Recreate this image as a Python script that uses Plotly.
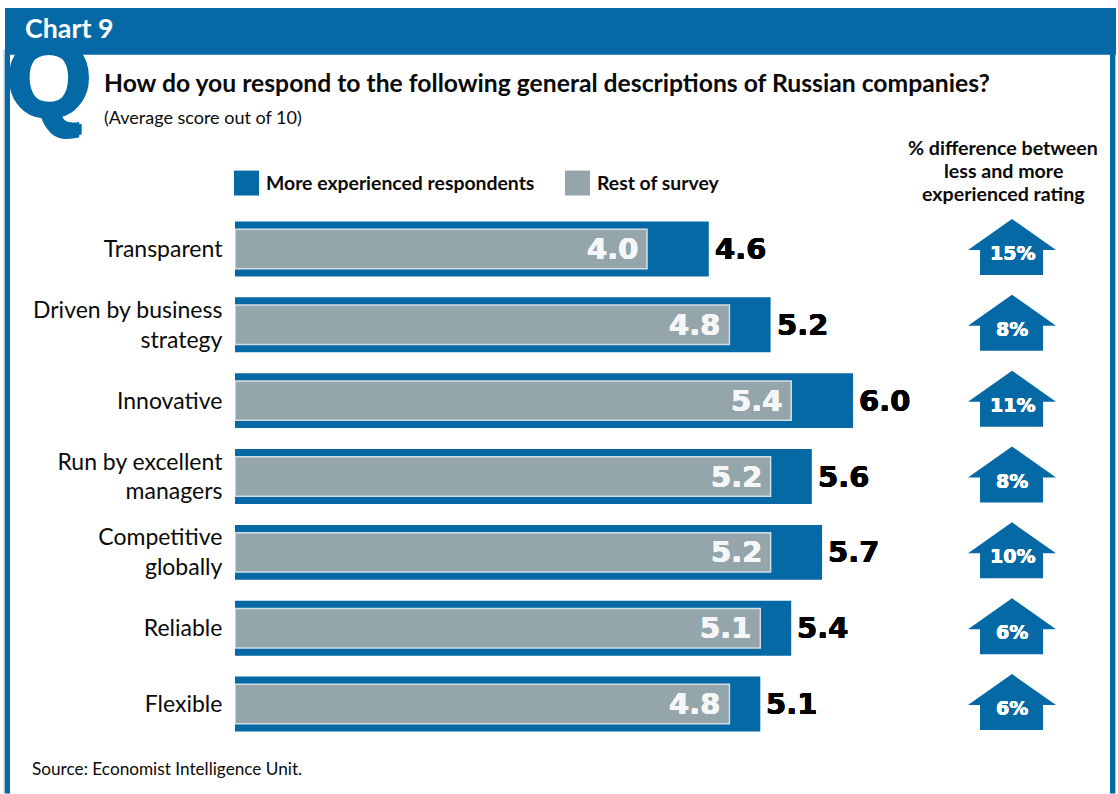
import plotly.graph_objects as go

categories = ["Transparent", "Driven by business<br>strategy", "Innovative",
              "Run by excellent<br>managers", "Competitive<br>globally", "Reliable", "Flexible"]
more_experienced = [4.6, 5.2, 6.0, 5.6, 5.7, 5.4, 5.1]
rest_of_survey = [4.0, 4.8, 5.4, 5.2, 5.2, 5.1, 4.8]
pct_difference = ["15%", "8%", "11%", "8%", "10%", "6%", "6%"]
series_names = ["More experienced respondents", "Rest of survey"]
column_heading = ["% difference between", "less and more", "experienced rating"]

BLUE = "#0569a6"
GREY = "#94a5ac"
EDGE = "#a9c6da"
INK = "#0a0a0a"
NARROW = "Lato, sans-serif"
HEAVY = "DejaVu Sans, sans-serif"
W, H = 1118, 794
MARGIN_L, MARGIN_T, MARGIN_B = 235, 210.5, 51.5
PLOT_W, PLOT_H = W - MARGIN_L, H - MARGIN_T - MARGIN_B


# page pixels expressed in the plot area's paper coordinates
def px(x):
    return (x - MARGIN_L) / PLOT_W


def py(y):
    return 1 - (y - MARGIN_T) / PLOT_H


def page_rect(x0, y0, x1, y1, color):
    return dict(type="rect", xref="paper", yref="paper", x0=px(x0), x1=px(x1), y0=py(y1), y1=py(y0),
                fillcolor=color, line_width=0, layer="below")


def thicken(color, d):
    # text-shadow offsets that fatten the glyph strokes
    return ", ".join(f"{a}px {b}px 0 {color}" for a, b in [(d, 0), (-d, 0), (0, d), (0, -d)])


fig = go.Figure()
fig.add_bar(y=categories, x=more_experienced, orientation="h", width=0.724, name=series_names[0],
            marker=dict(color=BLUE, line_width=0), showlegend=False)
fig.add_bar(y=categories, x=rest_of_survey, orientation="h", width=0.52, name=series_names[1],
            marker=dict(color=GREY, line=dict(color="#d5dee3", width=1.5)), showlegend=False)

shapes = [
    # page frame and heading band
    page_rect(3.5, 49, 5, 794, EDGE),
    page_rect(5, 49, 10, 794, BLUE),
    page_rect(1110, 49, 1115, 794, BLUE),
    page_rect(1115, 49, 1116, 794, EDGE),
    page_rect(5, 7, 1116, 54, BLUE),
    # legend swatches
    page_rect(234, 170, 259, 195, BLUE),
    page_rect(565, 170, 590, 195, GREY),
]


def note(text, x, y, size, color=INK, family=NARROW, anchor="left", bold=False, shadow=None):
    label = f"<b>{text}</b>" if bold else text
    font = dict(size=size, color=color, family=family)
    if shadow:
        font["shadow"] = shadow
    return dict(text=label, xref="paper", yref="paper", x=px(x), y=py(y), xanchor=anchor, yanchor="middle",
                showarrow=False, font=font)


annotations = [
    # the large Q merges into the band, so the band's white label goes on top of it
    note("Q", 5, 77, 108, BLUE, "Liberation Sans, sans-serif", bold=True, shadow=thicken(BLUE, 2.5)),
    note("Chart 9", 23, 27, 26.8, "white", bold=True),
    note("How do you respond to the following general descriptions of Russian companies?", 102, 82, 24.7, bold=True),
    note("(Average score out of 10)", 102, 116, 18),
    note(series_names[0], 264, 182, 19.4, bold=True),
    note(series_names[1], 595, 182, 19.4, bold=True),
    note("Source: Economist Intelligence Unit.", 30, 769, 17.2),
]
for line, y in zip(column_heading, [147, 170, 193]):
    annotations.append(note(line, 1003, y, 19.6, anchor="center", bold=True))

for cat, more, rest, pct in zip(categories, more_experienced, rest_of_survey, pct_difference):
    annotations.append(dict(x=more, y=cat, text=f"<b>{more:.1f}</b>", xanchor="left", xshift=4, showarrow=False,
                            font=dict(size=29, color="black", family=HEAVY, shadow=thicken("black", 0.4))))
    annotations.append(dict(x=rest, y=cat, text=f"<b>{rest:.1f}</b>", xanchor="right", xshift=-7, showarrow=False,
                            font=dict(size=29, color="#f4f6f7", family=HEAVY, shadow=thicken("#f4f6f7", 0.4))))
    annotations.append(dict(x=px(1012), xref="paper", y=cat, text=f"<b>{pct}</b>", xanchor="center", yshift=-4, showarrow=False,
                            font=dict(size=19, color="white", family=HEAVY, shadow=thicken("white", 0.3))))
    # house-shaped arrow for the percentage difference
    shapes.append(dict(type="path", xref="paper", yref="y", xsizemode="pixel", ysizemode="pixel",
                       xanchor=px(1012), yanchor=cat,
                       path="M 0 30 L 44 -1 L 31 -1 L 31 -26 L -32 -26 L -32 -1 L -44 -1 Z",
                       fillcolor=BLUE, line_width=0))

fig.update_layout(
    width=W, height=H, autosize=False,
    margin=dict(l=MARGIN_L, r=0, t=MARGIN_T, b=MARGIN_B),
    barmode="overlay", paper_bgcolor="white", plot_bgcolor="white",
    shapes=shapes, annotations=annotations,
    xaxis=dict(range=[0, PLOT_W / 103], visible=False, fixedrange=True),
    yaxis=dict(autorange="reversed", showgrid=False, showline=False, zeroline=False,
               ticks="outside", ticklen=7, tickcolor="rgba(0,0,0,0)", fixedrange=True,
               tickfont=dict(size=23, color=INK, family=NARROW)),
)
fig.write_html("out.html")
